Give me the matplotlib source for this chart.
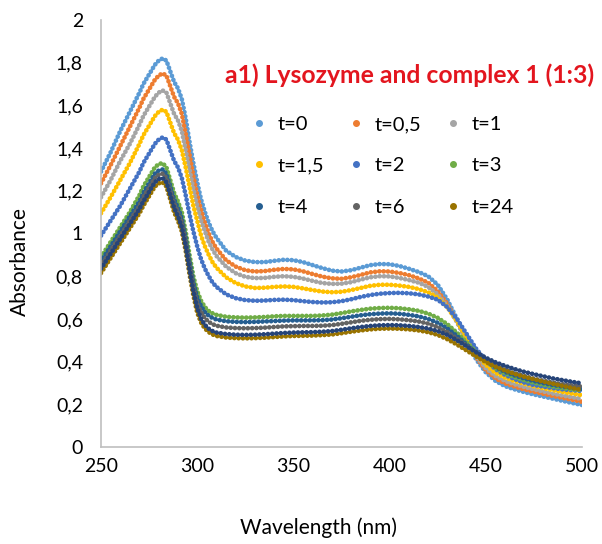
import matplotlib
matplotlib.use("Agg")
import matplotlib.pyplot as plt
from matplotlib.lines import Line2D

plt.rcParams['font.family'] = ['Lato', 'DejaVu Sans']

wavelength = [250, 255, 260, 265,
              270, 272, 274, 276, 278, 280, 282, 284, 286, 288, 290,
              292, 294, 296, 298, 300, 302, 304, 306, 308, 310,
              315, 320, 325, 330, 335, 340, 345, 350, 355, 360,
              365, 370, 375, 380, 385, 390, 395, 400, 405, 410,
              415, 420, 425, 430, 435, 440, 445, 450, 455, 460,
              465, 470, 475, 480, 485, 490, 495, 500]

abs_t0 = [1.29, 1.38, 1.48, 1.57,
          1.66, 1.70, 1.73, 1.76, 1.79, 1.81, 1.82, 1.81, 1.76, 1.71, 1.68,
          1.63, 1.54, 1.43, 1.33, 1.24, 1.16, 1.10, 1.05, 1.01, 0.98,
          0.92, 0.89, 0.873, 0.866, 0.866, 0.872, 0.877, 0.875, 0.866, 0.852,
          0.838, 0.826, 0.822, 0.828, 0.84, 0.852, 0.857, 0.856, 0.848, 0.835,
          0.82, 0.80, 0.76, 0.69, 0.60, 0.50, 0.41, 0.35, 0.31, 0.285,
          0.27, 0.257, 0.246, 0.236, 0.226, 0.216, 0.206, 0.197]

abs_t05 = [1.235, 1.32, 1.41, 1.50,
           1.59, 1.63, 1.66, 1.69, 1.72, 1.74, 1.75, 1.74, 1.69, 1.64, 1.61,
           1.56, 1.47, 1.37, 1.27, 1.18, 1.11, 1.05, 1.00, 0.96, 0.93,
           0.875, 0.845, 0.828, 0.822, 0.824, 0.83, 0.834, 0.832, 0.823, 0.81,
           0.798, 0.79, 0.788, 0.795, 0.806, 0.818, 0.823, 0.822, 0.815, 0.805,
           0.79, 0.77, 0.73, 0.67, 0.59, 0.50, 0.42, 0.36, 0.322, 0.298,
           0.283, 0.27, 0.259, 0.249, 0.239, 0.23, 0.221, 0.212]

abs_t1 = [1.17, 1.25, 1.34, 1.42,
          1.51, 1.55, 1.58, 1.61, 1.64, 1.66, 1.67, 1.66, 1.61, 1.56, 1.53,
          1.48, 1.39, 1.30, 1.21, 1.13, 1.06, 1.01, 0.96, 0.925, 0.895,
          0.845, 0.814, 0.797, 0.791, 0.792, 0.797, 0.80, 0.797, 0.789, 0.778,
          0.768, 0.764, 0.765, 0.772, 0.784, 0.795, 0.80, 0.799, 0.792, 0.782,
          0.77, 0.75, 0.715, 0.66, 0.585, 0.50, 0.425, 0.37, 0.333, 0.31,
          0.294, 0.281, 0.27, 0.26, 0.25, 0.241, 0.233, 0.225]

abs_t15 = [1.095, 1.17, 1.25, 1.33,
           1.42, 1.46, 1.49, 1.52, 1.55, 1.57, 1.58, 1.57, 1.52, 1.47, 1.44,
           1.39, 1.31, 1.22, 1.13, 1.06, 0.99, 0.94, 0.90, 0.865, 0.84,
           0.795, 0.768, 0.752, 0.745, 0.746, 0.75, 0.752, 0.75, 0.743, 0.735,
           0.728, 0.725, 0.727, 0.735, 0.745, 0.755, 0.76, 0.76, 0.756, 0.75,
           0.74, 0.725, 0.70, 0.655, 0.59, 0.51, 0.44, 0.385, 0.348, 0.325,
           0.309, 0.296, 0.285, 0.275, 0.266, 0.258, 0.25, 0.243]

abs_t2 = [0.99, 1.06, 1.13, 1.21,
          1.29, 1.33, 1.36, 1.39, 1.42, 1.44, 1.45, 1.44, 1.39, 1.34, 1.31,
          1.26, 1.18, 1.09, 1.01, 0.94, 0.88, 0.835, 0.80, 0.77, 0.75,
          0.715, 0.697, 0.688, 0.685, 0.686, 0.689, 0.69, 0.688, 0.683, 0.679,
          0.677, 0.678, 0.683, 0.692, 0.703, 0.712, 0.718, 0.721, 0.722, 0.72,
          0.715, 0.705, 0.69, 0.655, 0.60, 0.53, 0.46, 0.405, 0.365, 0.338,
          0.318, 0.302, 0.29, 0.283, 0.276, 0.27, 0.266, 0.262]

abs_t3 = [0.89, 0.96, 1.03, 1.10,
          1.18, 1.22, 1.25, 1.28, 1.31, 1.325, 1.33, 1.31, 1.25, 1.19, 1.15,
          1.10, 1.01, 0.90, 0.80, 0.73, 0.685, 0.655, 0.637, 0.626, 0.619,
          0.61, 0.607, 0.606, 0.607, 0.609, 0.612, 0.614, 0.614, 0.614, 0.614,
          0.616, 0.62, 0.627, 0.635, 0.642, 0.648, 0.651, 0.652, 0.65, 0.645,
          0.638, 0.625, 0.605, 0.575, 0.535, 0.49, 0.445, 0.405, 0.37, 0.345,
          0.327, 0.313, 0.301, 0.291, 0.283, 0.276, 0.27, 0.265]

abs_t4 = [0.87, 0.94, 1.01, 1.08,
          1.15, 1.19, 1.22, 1.25, 1.28, 1.295, 1.30, 1.28, 1.22, 1.16, 1.12,
          1.07, 0.98, 0.87, 0.77, 0.70, 0.66, 0.632, 0.615, 0.604, 0.597,
          0.589, 0.586, 0.585, 0.586, 0.588, 0.59, 0.592, 0.593, 0.593, 0.593,
          0.594, 0.597, 0.603, 0.61, 0.617, 0.622, 0.625, 0.626, 0.624, 0.619,
          0.612, 0.60, 0.582, 0.555, 0.52, 0.48, 0.44, 0.405, 0.375, 0.352,
          0.335, 0.321, 0.309, 0.299, 0.29, 0.283, 0.277, 0.272]

abs_t6 = [0.85, 0.92, 0.99, 1.06,
          1.13, 1.17, 1.20, 1.23, 1.26, 1.275, 1.28, 1.26, 1.20, 1.14, 1.10,
          1.05, 0.96, 0.85, 0.75, 0.675, 0.632, 0.603, 0.586, 0.575, 0.568,
          0.56, 0.557, 0.556, 0.557, 0.559, 0.562, 0.565, 0.566, 0.567, 0.567,
          0.568, 0.571, 0.577, 0.584, 0.591, 0.596, 0.599, 0.60, 0.598, 0.594,
          0.588, 0.578, 0.562, 0.538, 0.508, 0.474, 0.44, 0.41, 0.383, 0.362,
          0.345, 0.332, 0.32, 0.31, 0.301, 0.294, 0.288, 0.283]

abs_t24 = [0.815, 0.885, 0.955, 1.025,
           1.095, 1.13, 1.16, 1.19, 1.22, 1.235, 1.24, 1.22, 1.16, 1.10, 1.06,
           1.01, 0.92, 0.81, 0.71, 0.63, 0.583, 0.555, 0.538, 0.527, 0.52,
           0.513, 0.51, 0.509, 0.51, 0.512, 0.515, 0.518, 0.52, 0.521, 0.522,
           0.524, 0.527, 0.533, 0.54, 0.546, 0.551, 0.554, 0.555, 0.554, 0.551,
           0.546, 0.538, 0.525, 0.505, 0.48, 0.452, 0.424, 0.398, 0.376, 0.358,
           0.342, 0.329, 0.317, 0.306, 0.296, 0.286, 0.276, 0.267]

# extra dark-navy series visible in the plot (no legend entry)
abs_extra = [0.835, 0.905, 0.975, 1.045,
             1.115, 1.15, 1.18, 1.21, 1.24, 1.255, 1.26, 1.24, 1.18, 1.12, 1.08,
             1.03, 0.94, 0.83, 0.73, 0.65, 0.60, 0.572, 0.554, 0.543, 0.536,
             0.529, 0.526, 0.525, 0.526, 0.528, 0.531, 0.534, 0.536, 0.537, 0.538,
             0.54, 0.543, 0.549, 0.556, 0.562, 0.567, 0.57, 0.571, 0.57, 0.567,
             0.562, 0.555, 0.543, 0.525, 0.50, 0.472, 0.444, 0.418, 0.397, 0.38,
             0.365, 0.352, 0.341, 0.331, 0.321, 0.313, 0.305, 0.298]

series_labels = ['t=0', 't=0,5', 't=1', 't=1,5', 't=2', 't=3', 't=4', 't=6', 't=24']
series_values = [abs_t0, abs_t05, abs_t1, abs_t15, abs_t2, abs_t3, abs_t4, abs_t6, abs_t24]
series_colors = ['#5B9BD5', '#ED7D31', '#A5A5A5', '#FFC000', '#4472C4',
                 '#70AD47', '#255E91', '#636363', '#997300']
extra_color = '#264478'

x_ticks = [250, 300, 350, 400, 450, 500]
y_ticks = [0, 0.2, 0.4, 0.6, 0.8, 1.0, 1.2, 1.4, 1.6, 1.8, 2.0]
y_tick_labels = ['0', '0,2', '0,4', '0,6', '0,8', '1', '1,2', '1,4', '1,6', '1,8', '2']

fig = plt.figure(figsize=(6.02, 5.44), dpi=100)
ax = fig.add_axes([101/602, 1-447/544, (582-101)/602, (447-20)/544])

dot_style = dict(linestyle=(0, (0.01, 0.9)), linewidth=3.4,
                 dash_capstyle='round', solid_capstyle='round')
for vals, col in zip(series_values, series_colors):
    ax.plot(wavelength, vals, color=col, **dot_style)
ax.plot(wavelength, abs_extra, color=extra_color, **dot_style)

ax.set_xlim(250, 500)
ax.set_ylim(0, 2)
ax.set_xticks(x_ticks)
ax.set_xticklabels([str(v) for v in x_ticks])
ax.set_yticks(y_ticks)
ax.set_yticklabels(y_tick_labels)
ax.tick_params(axis='both', length=0, labelsize=14, colors='#000000')
ax.tick_params(axis='y', pad=13)
ax.tick_params(axis='x', pad=8)
for s in ['top', 'right']:
    ax.spines[s].set_visible(False)
for s in ['left', 'bottom']:
    ax.spines[s].set_color('#BFBFBF')
    ax.spines[s].set_linewidth(1.2)

fig.text(318/602, 1-528/544, 'Wavelength (nm)', ha='center', va='center', fontsize=15)
fig.text(20/602, 1-262/544, 'Absorbance', ha='center', va='center', rotation=90, fontsize=15)

fig.text(410/602, 1-75/544, 'a1) Lysozyme and complex 1 (1:3)', ha='center', va='center',
         fontsize=17.8, fontweight='bold', color='#E3151E')

handles = [Line2D([], [], linestyle='none', marker='o', markersize=4,
                  markerfacecolor=c, markeredgecolor=c) for c in series_colors]
order = [0, 3, 6, 1, 4, 7, 2, 5, 8]
fig.legend([handles[i] for i in order], [series_labels[i] for i in order],
           ncol=3, loc='upper left', bbox_to_anchor=(251/602, 1-116/544),
           frameon=False, fontsize=14.5, handlelength=0.8, handletextpad=0.5,
           columnspacing=1.2, labelspacing=1.2, borderaxespad=0, borderpad=0)

fig.savefig('out.png', dpi=100)
